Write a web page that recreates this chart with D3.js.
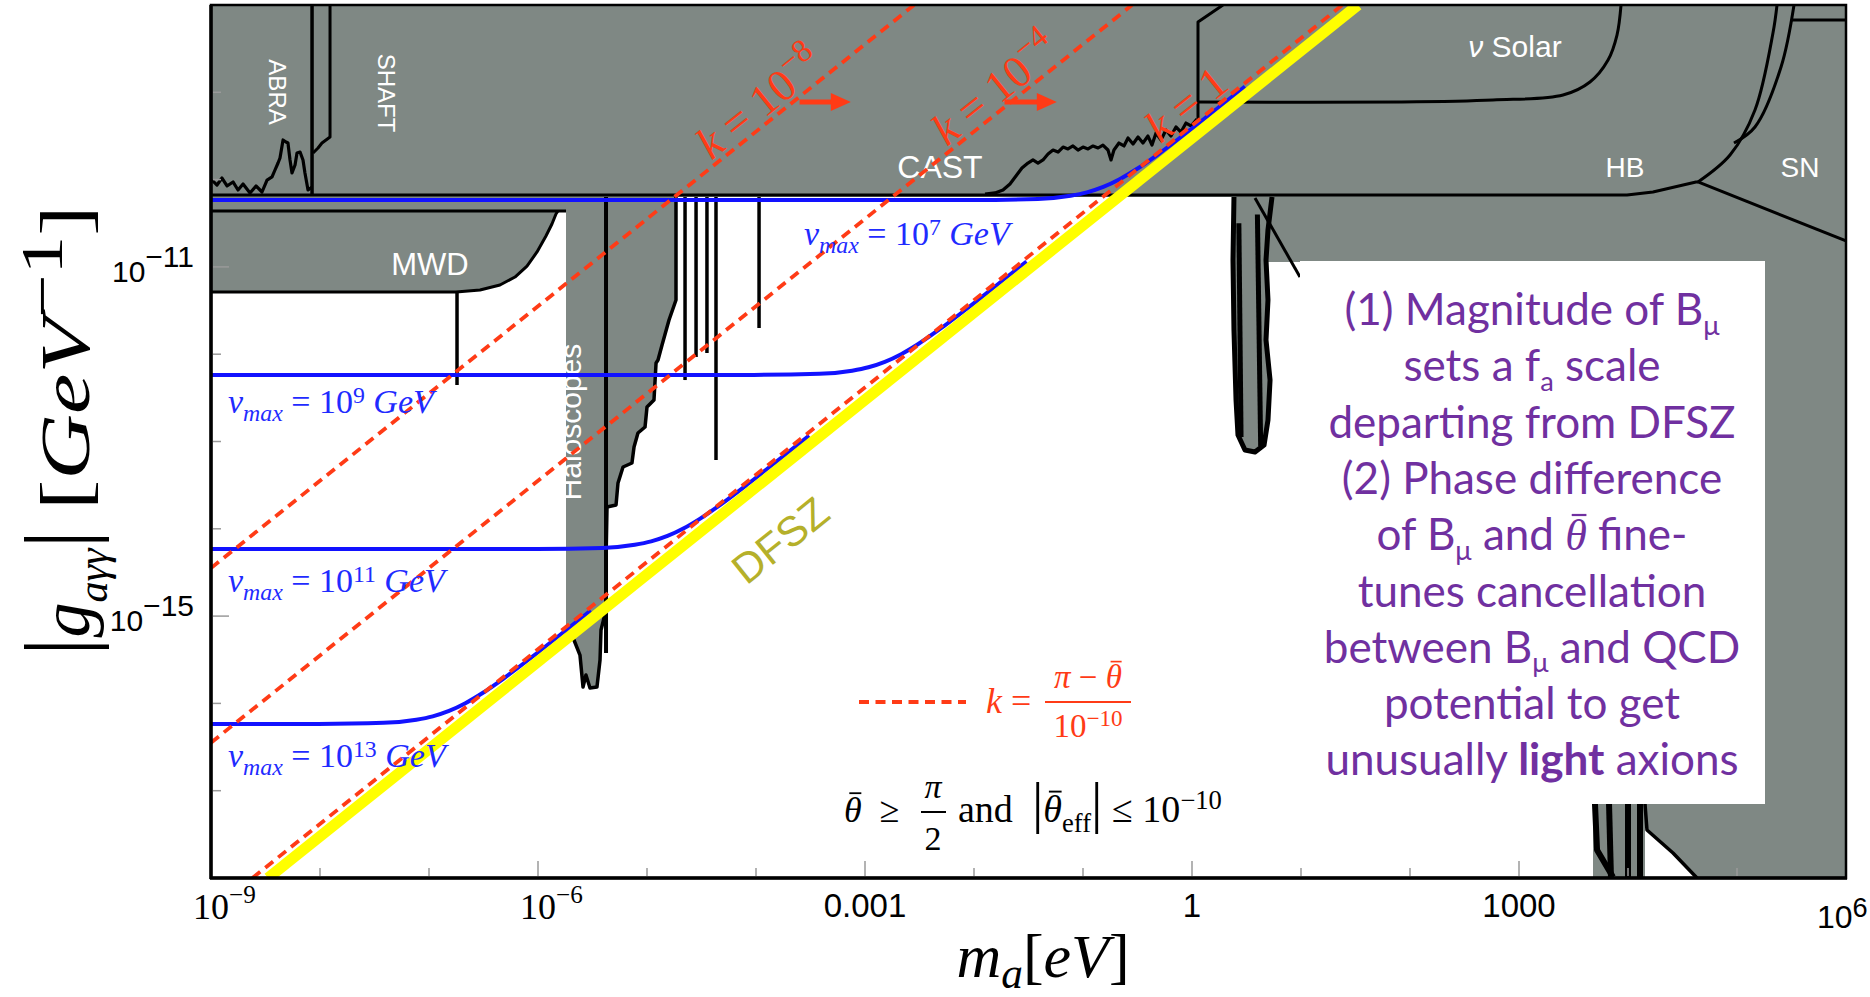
<!DOCTYPE html>
<html>
<head>
<meta charset="utf-8">
<title>axion photon coupling</title>
<script src="https://cdn.jsdelivr.net/npm/d3@7"></script>
<style>
  html, body { margin: 0; padding: 0; background: #fff; }
  svg { display: block; }
</style>
</head>
<body>
<div id="chart"></div>
<script>
// axes (m_a in eV, |g| in GeV^-1)
var massDomain = [1e-9, 1e6];
var couplingDomain = [1e-18, 1e-8];
var xTickValues = [1e-9, 1e-6, 1e-3, 1, 1e3, 1e6];
var xTickLabels = ["10^−9", "10^−6", "0.001", "1", "1000", "10^6"];
var yTickValues = [1e-11, 1e-15];
var yTickLabels = ["10^−11", "10^−15"];

// every shape below: [log10(m_a / eV), log10(|g| / GeV^-1)]
var topBand = [[-9, -8], [6, -8], [6, -10.2], [-9, -10.2]];
var mwdRegion = [[-9, -10.2], [-5.743, -10.2], [-5.743, -10.36], [-5.817, -10.36], [-5.835, -10.394],
  [-5.872, -10.509], [-5.927, -10.646], [-6.009, -10.829], [-6.101, -10.99], [-6.211, -11.116],
  [-6.349, -11.207], [-6.532, -11.265], [-6.752, -11.288], [-9, -11.288]];
var haloRegion = [[-5.743, -10.2], [-4.734, -10.2], [-4.734, -11.379], [-4.798, -11.608], [-4.862, -11.895],
  [-4.899, -12.066], [-4.917, -12.101], [-4.936, -12.525], [-5.0, -12.605], [-5.018, -12.834],
  [-5.083, -12.903], [-5.119, -13.063], [-5.138, -13.246], [-5.22, -13.292], [-5.266, -13.475],
  [-5.284, -13.727], [-5.367, -13.75], [-5.376, -14.357], [-5.376, -14.93], [-5.422, -15.159],
  [-5.431, -15.503], [-5.459, -15.812], [-5.523, -15.824], [-5.56, -15.675], [-5.587, -15.812],
  [-5.615, -15.446], [-5.67, -15.274], [-5.743, -15.159]];
var haloWall = [[-5.376, -10.2], [-5.376, -15.423]];
var haloSpikes = [[-4.651, -12.296], [-4.55, -12.032], [-4.45, -11.986], [-4.367, -13.212], [-3.972, -11.7]];
var teleRegion = [[0.385, -10.2], [0.734, -10.2], [0.697, -10.577], [0.679, -10.921], [0.697, -11.379],
  [0.679, -11.837], [0.716, -12.296], [0.697, -12.754], [0.661, -13.04], [0.578, -13.12],
  [0.486, -13.097], [0.422, -12.926], [0.404, -12.525], [0.385, -11.723], [0.376, -10.921]];
var teleInner = [[[0.43, -10.5], [0.45, -12.95]], [[0.6, -10.4], [0.63, -13.05]]];
var rightRegion = [[0.385, -10.2], [6, -10.2], [6, -18], [4.633, -18], [4.413, -17.714], [4.174, -17.45],
  [4.156, -17.152], [0.991, -10.944], [0.385, -10.944]];
var rightDiag = [[0.578, -10.211], [0.991, -11.116]];
var rightFoot = [[4.156, -17.152], [4.174, -17.45], [4.413, -17.714], [4.633, -18]];
var footRegion = [[3.679, -17.152], [4.156, -17.152], [4.156, -18], [3.679, -18]];
var footSpikes = [[[3.697, -17.152], [3.716, -17.679], [3.862, -17.989]], [[3.826, -17.152], [3.844, -18]],
  [[4.0, -17.152], [4.0, -18]], [[4.11, -17.152], [4.11, -18]]];

var hbEdge = [[-9, -10.176], [3.991, -10.176], [4.229, -10.142], [4.624, -10.027], [4.642, -10.027]];
var snEdge = [[4.642, -10.027], [6, -10.703]];
var hbCurveA = [[4.642, -10.027], [4.936, -9.718], [5.165, -9.203], [5.33, -8.321], [5.367, -8]];
var hbCurveB = [[4.972, -9.581], [5.165, -9.397], [5.404, -8.71], [5.523, -8]];
var topRightEdge = [[5.505, -8.172], [6, -8.172]];
var solarEdge = [[0.055, -9.111], [1.908, -9.111], [2.761, -9.088], [3.404, -9.031], [3.651, -8.882],
  [3.817, -8.63], [3.899, -8.344], [3.936, -8]];
var castStep = [[0.055, -9.317], [0.055, -8.195], [0.284, -8]];
var castEdge = [[-1.899, -10.165], [-1.807, -10.153], [-1.734, -10.119], [-1.67, -10.05], [-1.615, -9.959],
  [-1.56, -9.867], [-1.505, -9.81], [-1.459, -9.775], [-1.413, -9.81], [-1.367, -9.775], [-1.321, -9.707],
  [-1.275, -9.661], [-1.229, -9.684], [-1.183, -9.627], [-1.138, -9.649], [-1.092, -9.615], [-1.046, -9.661],
  [-1.0, -9.627], [-0.954, -9.649], [-0.908, -9.615], [-0.862, -9.638], [-0.817, -9.604], [-0.771, -9.661],
  [-0.743, -9.775], [-0.716, -9.661], [-0.67, -9.581], [-0.624, -9.615], [-0.587, -9.523], [-0.541, -9.592],
  [-0.495, -9.512], [-0.45, -9.581], [-0.404, -9.501], [-0.367, -9.604], [-0.33, -9.466], [-0.284, -9.546],
  [-0.239, -9.432], [-0.193, -9.501], [-0.147, -9.397], [-0.101, -9.455], [-0.055, -9.352], [-0.009, -9.386],
  [0.046, -9.306]];
var abraEdge = [[-8.991, -10.005], [-8.945, -10.062], [-8.899, -9.982], [-8.853, -10.073], [-8.798, -10.027],
  [-8.752, -10.119], [-8.706, -10.05], [-8.642, -10.153], [-8.587, -10.073], [-8.532, -10.142], [-8.486, -10.005],
  [-8.44, -9.97], [-8.413, -9.89], [-8.385, -9.81], [-8.367, -9.753], [-8.339, -9.546], [-8.312, -9.569],
  [-8.294, -9.581], [-8.275, -9.775], [-8.257, -9.924], [-8.229, -9.833], [-8.211, -9.695], [-8.183, -9.684],
  [-8.156, -9.775], [-8.138, -9.924], [-8.11, -10.119], [-8.073, -10.085]];
var abraWall = [[-8.073, -8], [-8.073, -10.176]];
var shaftEdge = [[-7.908, -8], [-7.908, -9.512], [-7.945, -9.546], [-7.982, -9.581], [-8.018, -9.638], [-8.064, -9.695]];
var mwdTop = [[-9, -10.36], [-5.743, -10.36]];
var mwdEdge = mwdRegion.slice(3);
var mwdDrop = [[-6.743, -11.288], [-6.743, -12.353]];

// v_max curves
var vmaxExponents = ["7", "9", "11", "13"];
var vmax7 = [[-9, -10.234], [-2.014, -10.233], [-1.414, -10.221], [-1.114, -10.185], [-0.964, -10.146],
  [-0.814, -10.084], [-0.664, -9.996], [-0.514, -9.885], [-0.314, -9.713], [-0.064, -9.477], [0.186, -9.232], [0.486, -8.934]];
var vmax9 = [[-9, -12.238], [-4.018, -12.237], [-3.418, -12.225], [-3.118, -12.189], [-2.968, -12.15],
  [-2.818, -12.088], [-2.668, -12.0], [-2.518, -11.889], [-2.318, -11.717], [-2.068, -11.481], [-1.818, -11.236], [-1.518, -10.938]];
var vmax11 = [[-9, -14.232], [-6.012, -14.231], [-5.412, -14.219], [-5.112, -14.183], [-4.962, -14.144],
  [-4.812, -14.082], [-4.662, -13.994], [-4.512, -13.883], [-4.312, -13.711], [-4.062, -13.475], [-3.812, -13.23], [-3.512, -12.932]];
var vmax13 = [[-9, -16.236], [-8.016, -16.235], [-7.416, -16.223], [-7.116, -16.187], [-6.966, -16.148],
  [-6.816, -16.086], [-6.666, -15.998], [-6.516, -15.887], [-6.316, -15.715], [-6.066, -15.479], [-5.816, -15.234], [-5.516, -14.936]];
var vmaxLabelAt = [[-3.56, -10.749], [-8.844, -12.674], [-8.844, -14.724], [-8.844, -16.729]];

var dfszLine = [[-8.477, -18], [1.523, -8]];
var kExponents = ["−8", "−4", ""];
var kLines = [[[-9, -14.45], [-2.55, -8]], [[-9, -16.45], [-0.55, -8]], [[-8.62, -18], [1.38, -8]]];
var kLabelAt = [-4.38, -2.22, -0.26];
var kArrows = [[[-3.6, -9.11], [-3.13, -9.11]], [[-1.72, -9.11], [-1.24, -9.11]]];

var boxLines = [
  [["(1) Magnitude of B"], ["μ", "sub"]],
  [["sets a f"], ["a", "sub"], [" scale"]],
  [["departing from DFSZ"]],
  [["(2) Phase difference"]],
  [["of B"], ["μ", "sub"], [" and "], ["θ", "i serif bar"], [" fine-"]],
  [["tunes cancellation"]],
  [["between B"], ["μ", "sub"], [" and QCD"]],
  [["potential to get"]],
  [["unusually "], ["light", "b"], [" axions"]]
];

var width = 1870, height = 997;
var serif = '"Liberation Serif", "Times New Roman", serif',
    sans = '"Liberation Sans", Arial, sans-serif',
    calibri = 'Lato, "Open Sans", sans-serif';
var grey = "#7f8884", red = "#ff3b16", blue = "#1212ff", purple = "#7030a0";

var x = d3.scaleLog().domain(massDomain).range([211, 1846]);
var y = d3.scaleLog().domain(couplingDomain).range([878, 5]);

function px(d) { return x(Math.pow(10, d[0])); }
function py(d) { return y(Math.pow(10, d[1])); }
var line = d3.line().x(px).y(py);
var smooth = d3.line().x(px).y(py).curve(d3.curveMonotoneX);
var round = d3.line().x(px).y(py).curve(d3.curveCatmullRom.alpha(0.5));
// slope of a g ∝ m line on screen
var angle = -Math.atan((y(1e-18) - y(1e-17)) / (x(1e-8) - x(1e-9))) * 180 / Math.PI;

// rich text: parts = [[text, "i b sub sup big serif bar"]]
function rich(parent, parts, o) {
    var t = parent.append("text")
        .attr("x", o.x).attr("y", o.y)
        .attr("font-size", o.size)
        .attr("font-family", o.font)
        .attr("fill", o.fill || "#000")
        .attr("text-anchor", o.anchor || "start")
        .style("white-space", "pre");
    if (o.transform) t.attr("transform", o.transform);
    var cur = 0, bars = [];
    parts.forEach(function(p) {
        var f = (p[1] || "").split(" ");
        var s = o.size, shift = 0;
        if (f.indexOf("sub") >= 0) { s = o.size * (o.subScale || 0.7); shift = o.size * (o.subShift || 0.26); }
        if (f.indexOf("sup") >= 0) { s = o.size * (o.supScale || 0.7); shift = -o.size * (o.supShift || 0.32); }
        if (f.indexOf("big") >= 0) { s = o.size * (o.bigScale || 1.32); }
        var ts = t.append("tspan").attr("dy", shift - cur).attr("font-size", s).text(p[0]);
        if (f.indexOf("i") >= 0) ts.attr("font-style", "italic");
        if (f.indexOf("b") >= 0) ts.attr("font-weight", "bold");
        if (f.indexOf("serif") >= 0) ts.attr("font-family", serif);
        if (f.indexOf("bar") >= 0) bars.push([ts, s]);
        cur = shift;
    });
    // overbar (theta-bar), placed once the line is laid out
    bars.forEach(function(b) {
        var n = b[0].node(), s = b[1];
        var p = n.getStartPositionOfChar(0), w = n.getComputedTextLength();
        parent.append("line")
            .attr("x1", p.x + 0.3 * w).attr("x2", p.x + 0.98 * w)
            .attr("y1", p.y - 0.8 * s).attr("y2", p.y - 0.8 * s)
            .attr("stroke", o.fill || "#000").attr("stroke-width", Math.max(1.5, s * 0.05));
    });
    return t;
}

function powerParts(s) {
    var k = s.indexOf("^");
    return k < 0 ? [[s]] : [[s.slice(0, k)], [s.slice(k + 1), "sup"]];
}

var svg = d3.select("#chart").append("svg")
    .attr("width", width)
    .attr("height", height);
svg.append("rect").attr("width", width).attr("height", height).attr("fill", "#fff");

svg.append("defs").append("clipPath").attr("id", "plotclip")
    .append("rect")
    .attr("x", x.range()[0]).attr("y", y.range()[1])
    .attr("width", x.range()[1] - x.range()[0])
    .attr("height", y.range()[0] - y.range()[1]);

var plot = svg.append("g").attr("clip-path", "url(#plotclip)");

// excluded regions
[topBand, mwdRegion, haloRegion, rightRegion, footRegion, teleRegion].forEach(function(d) {
    plot.append("path").attr("d", line(d) + "Z").attr("fill", grey);
});

function edge(d, w, gen) {
    plot.append("path")
        .attr("d", (gen || line)(d))
        .attr("fill", "none")
        .attr("stroke", "#000")
        .attr("stroke-width", w || 3)
        .attr("stroke-linejoin", "round");
}
edge(hbEdge);
edge(snEdge);
edge(hbCurveA, 3, round);
edge(hbCurveB, 3, round);
edge(topRightEdge);
edge(solarEdge, 3, round);
edge(castStep);
edge(castEdge, 3.2);
edge(abraEdge, 3.2);
edge(abraWall, 3.5);
edge(shaftEdge, 3);
edge(mwdTop);
edge(mwdEdge, 3);
edge(mwdDrop, 3.5);
edge(haloRegion.slice(1), 3.5);
edge(haloWall, 4);
haloSpikes.forEach(function(d) { edge([[d[0], -10.2], d], 3.5); });
edge(teleRegion.slice(1).concat([teleRegion[0]]), 5);
teleInner.forEach(function(d) { edge(d, 5); });
edge(rightDiag, 3);
edge(rightFoot, 3.5);
footSpikes.forEach(function(d) { edge(d, 6); });

// region names
function regionLabel(text, lm, lg, size, rot, parts) {
    var X = px([lm, lg]), Y = py([lm, lg]);
    rich(plot, parts || [[text]], {
        x: 0, y: 0, size: size, font: sans, fill: "#fff", anchor: "middle",
        transform: "translate(" + X + "," + Y + ")" + (rot ? " rotate(" + rot + ")" : "")
    });
}
regionLabel("ABRA", -8.468, -8.997, 24, 90);
regionLabel("SHAFT", -7.468, -9.008, 24, 90);
regionLabel("MWD", -6.991, -11.093, 31);
regionLabel("CAST", -2.312, -9.982, 32);
regionLabel("Haloscopes", -5.606, -12.777, 30, -90);
regionLabel("", 2.963, -8.596, 30, 0, [["ν", "i"], [" Solar"]]);
regionLabel("HB", 3.972, -9.97, 28);
regionLabel("SN", 5.578, -9.97, 28);

// v_max curves
[vmax7, vmax9, vmax11, vmax13].forEach(function(d) {
    plot.append("path").attr("d", smooth(d))
        .attr("fill", "none").attr("stroke", blue).attr("stroke-width", 4);
});

// DFSZ band
plot.append("path").attr("d", line(dfszLine))
    .attr("fill", "none").attr("stroke", "#ffff00").attr("stroke-width", 11);

// k lines
kLines.forEach(function(d) {
    plot.append("path").attr("d", line(d))
        .attr("fill", "none").attr("stroke", red)
        .attr("stroke-width", 3.8).attr("stroke-dasharray", "10,6.5");
});

kLines.forEach(function(d, i) {
    var c = d[1][1] - d[1][0];
    var p = [kLabelAt[i], kLabelAt[i] + c];
    var parts = kExponents[i] ? [["k", "i"], [" = 10"], [kExponents[i], "sup"]] : [["k", "i"], [" = 1"]];
    rich(plot, parts, {
        x: 0, y: -5, size: 45, font: serif, fill: red, supScale: 0.72, supShift: 0.42,
        transform: "translate(" + px(p) + "," + py(p) + ") rotate(" + angle + ")"
    });
});

kArrows.forEach(function(d) {
    var x0 = px(d[0]), x1 = px(d[1]), yy = py(d[0]);
    plot.append("line").attr("x1", x0).attr("x2", x1 - 16).attr("y1", yy).attr("y2", yy)
        .attr("stroke", red).attr("stroke-width", 5);
    plot.append("path")
        .attr("d", "M" + x1 + "," + yy + "L" + (x1 - 20) + "," + (yy - 9) + "L" + (x1 - 20) + "," + (yy + 9) + "Z")
        .attr("fill", red);
});

rich(plot, [["DFSZ"]], {
    x: 0, y: 15, size: 42, font: sans, fill: "#b5b02a", anchor: "middle",
    transform: "translate(" + px([-3.78, -14.128]) + "," + py([-3.78, -14.128]) + ") rotate(" + angle + ")"
});

vmaxLabelAt.forEach(function(p, i) {
    rich(plot, [["v", "i"], ["max", "i sub"], [" = 10"], [vmaxExponents[i], "sup"], [" GeV", "i"]], {
        x: px(p), y: py(p), size: 34, font: serif, fill: "#1f2bff", subShift: 0.24, supShift: 0.3
    });
});

// legend
svg.append("line").attr("x1", 859).attr("x2", 966).attr("y1", 702).attr("y2", 702)
    .attr("stroke", red).attr("stroke-width", 4).attr("stroke-dasharray", "10,6.5");
rich(svg, [["k", "i"], [" ="]], { x: 986, y: 713, size: 36, font: serif, fill: red });
rich(svg, [["π", "i"], [" − "], ["θ", "i bar"]], { x: 1088, y: 688, size: 33, font: serif, fill: red, anchor: "middle" });
svg.append("line").attr("x1", 1045).attr("x2", 1131).attr("y1", 702).attr("y2", 702)
    .attr("stroke", red).attr("stroke-width", 2);
rich(svg, [["10"], ["−10", "sup"]], { x: 1088, y: 737, size: 33, font: serif, fill: red, anchor: "middle" });

// condition
rich(svg, [["θ", "i bar"], ["  ≥"]], { x: 844, y: 822, size: 36, font: serif });
rich(svg, [["π", "i"]], { x: 933, y: 798, size: 34, font: serif, anchor: "middle" });
svg.append("line").attr("x1", 921).attr("x2", 946).attr("y1", 812).attr("y2", 812)
    .attr("stroke", "#000").attr("stroke-width", 2);
rich(svg, [["2"]], { x: 933, y: 850, size: 34, font: serif, anchor: "middle" });
rich(svg, [["and  "], ["|", "big"], ["θ", "i bar"], ["eff", "sub"], ["|", "big"], [" ≤ 10"], ["−10", "sup"]],
    { x: 958, y: 822, size: 38, font: serif, supShift: 0.35, bigScale: 1.5 });

// text box
svg.append("rect").attr("x", 1300).attr("y", 261).attr("width", 465).attr("height", 543).attr("fill", "#fff");
boxLines.forEach(function(parts, i) {
    rich(svg, parts, {
        x: 1532, y: 325 + 56.3 * i, size: 44, font: calibri, fill: purple, anchor: "middle",
        subScale: 0.62, subShift: 0.22
    });
});

// frame
svg.append("rect")
    .attr("x", x.range()[0]).attr("y", y.range()[1])
    .attr("width", x.range()[1] - x.range()[0])
    .attr("height", y.range()[0] - y.range()[1])
    .attr("fill", "none").attr("stroke", "#000").attr("stroke-width", 2.5);
svg.append("line").attr("x1", 211).attr("x2", 211).attr("y1", 5).attr("y2", 879)
    .attr("stroke", "#000").attr("stroke-width", 3.5);
svg.append("line").attr("x1", 210).attr("x2", 1847).attr("y1", 878).attr("y2", 878)
    .attr("stroke", "#000").attr("stroke-width", 3.5);

// ticks
var xDecades = d3.range(-8, 6).map(function(e) { return Math.pow(10, e); });
svg.append("g").selectAll("line").data(xDecades).enter().append("line")
    .attr("x1", function(d) { return x(d); }).attr("x2", function(d) { return x(d); })
    .attr("y1", 876)
    .attr("y2", function(d) { return Math.round(Math.log10(d)) % 3 === 0 ? 861 : 868; })
    .attr("stroke", "#9a9a9a").attr("stroke-width", 1.5);
var yDecades = d3.range(-17, -8).map(function(e) { return Math.pow(10, e); });
svg.append("g").selectAll("line").data(yDecades).enter().append("line")
    .attr("y1", function(d) { return y(d); }).attr("y2", function(d) { return y(d); })
    .attr("x1", 213)
    .attr("x2", function(d) {
        var e = Math.round(Math.log10(d));
        return e === -11 || e === -15 ? 229 : 221;
    })
    .attr("stroke", "#9a9a9a").attr("stroke-width", 1.5);

xTickValues.forEach(function(v, i) {
    var lab = xTickLabels[i];
    if (v < 1e-4) {
        rich(svg, powerParts(lab), { x: x(v) - 18, y: 919, size: 36, font: serif, supScale: 0.7, supShift: 0.45 });
    } else if (lab.indexOf("^") >= 0) {
        rich(svg, powerParts(lab), { x: x(v) - 29, y: 928, size: 32, font: sans, supScale: 0.85, supShift: 0.35 });
    } else {
        rich(svg, [[lab]], { x: x(v), y: 917, size: 33, font: sans, anchor: "middle" });
    }
});
yTickValues.forEach(function(v, i) {
    rich(svg, powerParts(yTickLabels[i]), {
        x: 194, y: y(v) + 15, size: 30, font: sans, anchor: "end", supScale: 1, supShift: 0.5
    });
});

// axis titles
rich(svg, [["m", "i"], ["a", "i sub"], ["["], ["eV", "i"], ["]"]], {
    x: 1043, y: 977, size: 62, font: serif, anchor: "middle", subScale: 0.7, subShift: 0.18
});
rich(svg, [["|", "big"], ["g", "i"], ["aγγ", "i sub"], ["|", "big"]], {
    x: 0, y: 0, size: 70, font: serif, subScale: 0.6, subShift: 0.25,
    transform: "translate(89,656) rotate(-90)"
});
// Mathematica stretched the unit part along the axis
rich(svg, [["["], ["GeV", "i"], ["−1", "sup"], ["]"]], {
    x: 0, y: 0, size: 70, font: serif, supScale: 0.85, supShift: 0.38,
    transform: "translate(89,510) rotate(-90) scale(1.3,1)"
});
</script>
</body>
</html>
